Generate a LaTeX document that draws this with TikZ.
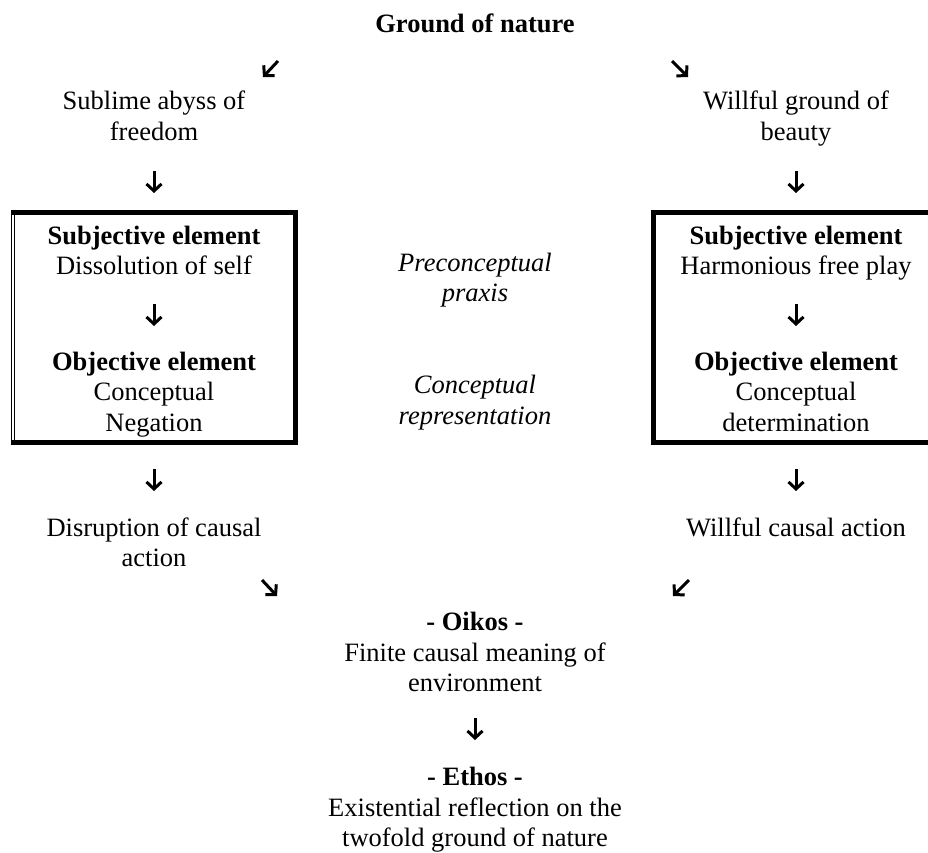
\documentclass[tikz,border=0pt]{standalone}
\usepackage{fontspec}
\setmainfont{Liberation Serif}
\usetikzlibrary{arrows.meta, positioning}

\begin{document}
\begin{tikzpicture}[
    x=1pt, y=-1pt,
    every node/.style={font=\fontsize{26.5}{30.5}\selectfont, inner sep=0pt, anchor=base, align=center},
    head/.style={font=\fontsize{26.5}{30.5}\selectfont\bfseries},
    phase/.style={font=\fontsize{26.5}{30.5}\selectfont\itshape},
    frame/.style={draw=none, minimum width=284pt, minimum height=229pt, anchor=center},
    heavy/.style={line width=5pt, line join=miter},
    hairline/.style={line width=1.3pt},
    arrow/.style={line width=3pt, -{Straight Barb[length=7pt, width=15pt]}}
]
\useasboundingbox (0,0) rectangle (928,852);
\clip (0,0) rectangle (928,852);

% Nodes (placed at the baseline of their last line)
\node (ground) [head] at (475,32) {Ground of nature};
\node (sublime) at (154,140) {Sublime abyss of\\freedom};
\node (willful) at (796,140) {Willful ground of\\beauty};

\node (leftbox) [frame] at (153.5,327.5) {};
\node (rightbox) [frame] at (796,327.5) {};
\node (lsubj) at (154,274.5) {\textbf{Subjective element}\\Dissolution of self};
\node (lobj) at (154,431) {\textbf{Objective element}\\Conceptual\\Negation};
\node (rsubj) at (796,274.5) {\textbf{Subjective element}\\Harmonious free play};
\node (robj) at (796,431) {\textbf{Objective element}\\Conceptual\\determination};

\node (praxis) [phase] at (475,301.5) {Preconceptual\\praxis};
\node (represent) [phase] at (475,424) {Conceptual\\representation};

\node (disrupt) at (154,566.5) {Disruption of causal\\action};
\node (causal) at (796,536) {Willful causal action};
\node (oikos) at (475,691.5) {\textbf{- Oikos -}\\Finite causal meaning of\\environment};
\node (ethos) at (475,846.5) {\textbf{- Ethos -}\\Existential reflection on the\\twofold ground of nature};

% Frames
\draw [heavy] (leftbox.north west) -- (leftbox.north east) -- (leftbox.south east) -- (leftbox.south west);
\draw [hairline] (leftbox.north west) -- (leftbox.south west);
\draw [hairline] ([xshift=3.5pt]leftbox.north west) -- ([xshift=3.5pt]leftbox.south west);
\draw [heavy] (rightbox.north west) rectangle (rightbox.south east);

% Arrow ends
\coordinate (g1) at (278,61);  \coordinate (s1) at (263,77);
\coordinate (g2) at (672,61);  \coordinate (w1) at (688,77);
\coordinate (s2) at (154,171); \coordinate (lb1) at (154,193);
\coordinate (w2) at (796,171); \coordinate (rb1) at (796,193);
\coordinate (ls) at (154,304); \coordinate (lo) at (154,326);
\coordinate (rs) at (796,304); \coordinate (ro) at (796,326);
\coordinate (lb2) at (154,469); \coordinate (d1) at (154,491);
\coordinate (rb2) at (796,469); \coordinate (c1) at (796,491);
\coordinate (d2) at (262,580); \coordinate (o1) at (277,596);
\coordinate (c2) at (689,580); \coordinate (o2) at (673,596);
\coordinate (o3) at (475,718); \coordinate (e1) at (475,740);

% Arrows
\draw [arrow] (g1) -- (s1);
\draw [arrow] (g2) -- (w1);
\draw [arrow] (s2) -- (lb1);
\draw [arrow] (w2) -- (rb1);
\draw [arrow] (ls) -- (lo);
\draw [arrow] (rs) -- (ro);
\draw [arrow] (lb2) -- (d1);
\draw [arrow] (rb2) -- (c1);
\draw [arrow] (d2) -- (o1);
\draw [arrow] (c2) -- (o2);
\draw [arrow] (o3) -- (e1);

\end{tikzpicture}
\end{document}
